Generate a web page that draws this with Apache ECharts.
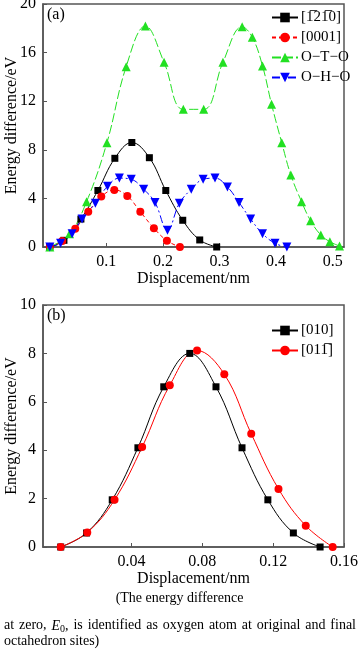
<!DOCTYPE html>
<html><head><meta charset="utf-8">
<script src="https://cdn.jsdelivr.net/npm/echarts@6/dist/echarts.min.js"></script>
<style>html,body{margin:0;padding:0;background:#fff}#c{width:359px;height:655px}</style>
</head><body><div id="c"></div>
<script>
// ---- Panel (a) data ----
const aNames = ['[1\u030521\u03050]', '[0001]', 'O\u2212T\u2212O', 'O\u2212H\u2212O'];
const a1x = [0, 0.025, 0.055, 0.085, 0.115, 0.145, 0.176, 0.205, 0.235, 0.265, 0.295];
const a1y = [0, 0.55, 2.3, 4.65, 7.3, 8.6, 7.35, 4.65, 2.2, 0.58, 0];
const a2x = [0, 0.022, 0.045, 0.068, 0.091, 0.114, 0.137, 0.16, 0.184, 0.207, 0.23];
const a2y = [0, 0.5, 1.5, 2.9, 4.15, 4.7, 4.2, 2.9, 1.55, 0.52, 0];
const a3x = [0, 0.035, 0.065, 0.101, 0.135, 0.169, 0.202, 0.236, 0.272, 0.306, 0.340, 0.358, 0.376, 0.392, 0.41, 0.426, 0.445, 0.461, 0.479, 0.495, 0.512];
const a3y = [0, 1.1, 3.73, 8.58, 14.84, 18.19, 15.2, 11.33, 11.33, 15.2, 18.13, 17.26, 14.9, 11.74, 8.58, 5.93, 3.73, 2.16, 0.99, 0.44, 0.08];
const a4x = [0, 0.019, 0.0395, 0.057, 0.0806, 0.102, 0.123, 0.144, 0.166, 0.186, 0.208, 0.229, 0.25, 0.271, 0.292, 0.314, 0.3345, 0.355, 0.376, 0.398, 0.419];
const a4y = [0, 0.3, 1.1, 2.3, 3.6, 5.0, 5.67, 5.57, 4.75, 3.66, 1.38, 3.6, 4.75, 5.57, 5.67, 4.94, 3.66, 2.3, 1.1, 0.3, 0];
const aXTicks = [0.1, 0.2, 0.3, 0.4, 0.5];
// ---- Panel (b) data ----
const bNames = ['[010]', '[011\u0305]'];
const b1x = [0, 0.0146, 0.0291, 0.0436, 0.0582, 0.0729, 0.0877, 0.1024, 0.117, 0.1314, 0.1465];
const b1y = [0, 0.58, 1.95, 4.1, 6.62, 8.0, 6.62, 4.1, 1.95, 0.58, 0];
const b2x = [0, 0.015, 0.0304, 0.046, 0.0616, 0.077, 0.0924, 0.1076, 0.123, 0.1384, 0.1536];
const b2y = [0, 0.6, 1.95, 4.13, 6.68, 8.12, 7.14, 4.68, 2.4, 0.88, 0];
const bXTicks = [0.04, 0.08, 0.12, 0.16];
// ---- caption ----
const capLine1 = '(The energy difference';
const capLine2Words = ['at', 'zero,', 'E0,', 'is', 'identified', 'as', 'oxygen', 'atom', 'at', 'original', 'and', 'final'];
const capLine3 = 'octahedron sites)';

const zip = (xs, ys) => xs.map((x, i) => [x, ys[i]]);
const FONT = '"Liberation Serif", "Times New Roman", serif';
const AX = '#555';

function xAxis(gi, min, max, ticks) {
  return {
    type: 'value', gridIndex: gi, min: min, max: max,
    name: 'Displacement/nm', nameLocation: 'middle', nameGap: 24, nameMoveOverlap: false,
    nameTextStyle: { fontFamily: FONT, fontSize: 16, color: '#000' },
    axisLine: { show: true, onZero: false, lineStyle: { color: AX, width: 1.5 } },
    axisTick: { show: true, inside: true, length: 4, customValues: ticks, lineStyle: { color: AX } },
    axisLabel: { customValues: ticks, fontFamily: FONT, fontSize: 16, color: '#000', margin: 7,
      formatter: v => String(+v.toFixed(2)) },
    splitLine: { show: false }
  };
}
function yAxis(gi, max, interval) {
  return {
    type: 'value', gridIndex: gi, min: 0, max: max, interval: interval,
    name: 'Energy difference/eV', nameLocation: 'middle', nameGap: 23, nameMoveOverlap: false,
    nameTextStyle: { fontFamily: FONT, fontSize: 16, color: '#000' },
    axisLine: { show: true, onZero: false, lineStyle: { color: AX, width: 1.5 } },
    axisTick: { show: true, inside: true, length: 4, lineStyle: { color: AX } },
    axisLabel: { fontFamily: FONT, fontSize: 16, color: '#000', margin: 7 },
    splitLine: { show: false }
  };
}
function ser(name, gi, data, color, symbol, size, dash, rot) {
  return {
    name: name, type: 'line', xAxisIndex: gi, yAxisIndex: gi, data: data,
    smooth: 0.4, symbol: symbol, symbolSize: size, symbolRotate: rot || 0,
    itemStyle: { color: color }, lineStyle: { color: color, width: 1, type: dash },
    z: 3
  };
}

// justified caption line built from words
const mctx = document.createElement('canvas').getContext('2d');
function wWidth(w) {
  if (w === 'E0,') {
    mctx.font = 'italic 14px ' + FONT; let a = mctx.measureText('E').width;
    mctx.font = '10px ' + FONT; a += mctx.measureText('0').width;
    mctx.font = '14px ' + FONT; return a + mctx.measureText(',').width;
  }
  mctx.font = '14px ' + FONT; return mctx.measureText(w).width;
}
const x0 = 4, x1 = 356;
const widths = capLine2Words.map(wWidth);
const gap = (x1 - x0 - widths.reduce((s, v) => s + v, 0)) / (capLine2Words.length - 1);
const capEls = [];
let cx = x0;
capLine2Words.forEach((w, i) => {
  const txt = w === 'E0,' ? '{i|E}{s|0},' : w;
  capEls.push({ type: 'text', x: cx, y: 618, style: {
    text: txt, font: '14px ' + FONT, fill: '#000',
    rich: { i: { fontStyle: 'italic', fontFamily: FONT, fontSize: 14 },
            s: { fontFamily: FONT, fontSize: 10, padding: [6, 0, 0, 0] } } } });
  cx += widths[i] + gap;
});

const chart = echarts.init(document.getElementById('c'), null, { renderer: 'canvas' });
chart.setOption({
  animation: false,
  backgroundColor: '#fff',
  textStyle: { fontFamily: FONT },
  grid: [
    { left: 43, top: 4, width: 301, height: 243, show: true, borderColor: AX, borderWidth: 1.5, backgroundColor: 'transparent', containLabel: false, outerBoundsMode: 'none' },
    { left: 43, top: 305, width: 301, height: 242, show: true, borderColor: AX, borderWidth: 1.5, backgroundColor: 'transparent', containLabel: false, outerBoundsMode: 'none' }
  ],
  xAxis: [xAxis(0, -0.012, 0.52, aXTicks), xAxis(1, -0.01, 0.16, bXTicks)],
  yAxis: [yAxis(0, 20, 4), yAxis(1, 10, 2)],
  legend: [
    { data: aNames, orient: 'vertical', left: 266, top: 5, itemWidth: 26, itemHeight: 12, itemGap: 5,
      textStyle: { fontFamily: FONT, fontSize: 15, color: '#000', padding: [0, 0, 0, -2] } },
    { data: bNames, orient: 'vertical', left: 266, top: 318, itemWidth: 26, itemHeight: 12, itemGap: 5,
      textStyle: { fontFamily: FONT, fontSize: 15, color: '#000', padding: [0, 0, 0, -2] } }
  ],
  series: [
    ser(aNames[0], 0, zip(a1x, a1y), '#000000', 'rect', 7, 'solid'),
    ser(aNames[1], 0, zip(a2x, a2y), '#ff0000', 'circle', 8, [4, 3]),
    ser(aNames[2], 0, zip(a3x, a3y), '#22e022', 'triangle', 9, [9, 3]),
    ser(aNames[3], 0, zip(a4x, a4y), '#0000ff', 'triangle', 9, [8, 3, 2, 3], 180),
    ser(bNames[0], 1, zip(b1x, b1y), '#000000', 'rect', 7, 'solid'),
    ser(bNames[1], 1, zip(b2x, b2y), '#ff0000', 'circle', 8, 'solid')
  ],
  graphic: [
    { type: 'text', left: 47, top: 7, style: { text: '(a)', font: '16px ' + FONT, fill: '#000' } },
    { type: 'text', left: 47, top: 308, style: { text: '(b)', font: '16px ' + FONT, fill: '#000' } },
    { type: 'text', left: 'center', top: 591, style: { text: capLine1, font: '14px ' + FONT, fill: '#000' } },
    { type: 'text', left: 4, top: 634, style: { text: capLine3, font: '14px ' + FONT, fill: '#000' } }
  ].concat(capEls)
});
</script></body></html>
